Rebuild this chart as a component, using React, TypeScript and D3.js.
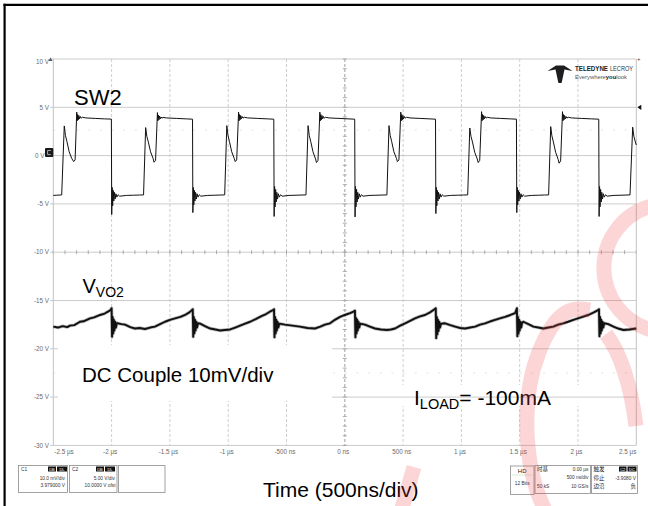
import React from 'react';
import * as d3 from 'd3';

// ---------- axis data ----------
const TIME_TICKS_NS = [-2500, -2000, -1500, -1000, -500, 0, 500, 1000, 1500, 2000, 2500];
const TIME_TICK_LABELS = ['-2.5 µs', '-2 µs', '-1.5 µs', '-1 µs', '-500 ns', '0 ns', '500 ns', '1 µs', '1.5 µs', '2 µs', '2.5 µs'];
const VOLT_TICKS = [10, 5, 0, -5, -10, -15, -20, -25, -30];
const VOLT_TICK_LABELS = ['10 V', '5 V', '0 V', '-5 V', '-10 V', '-15 V', '-20 V', '-25 V', '-30 V'];

// ---------- SW2 trace (time ns, volts) ----------
const SW2: [number, number][] = [
  [-2500, -4.12], [-2470, -4.1], [-2428, -4.07], [-2406, 3.07], [-2396, 2.1], [-2383, 1.45], [-2364, 0.4], [-2342, -0.3], [-2325, -0.62], [-2313, -0.45],
  [-2299, 4.5], [-2295, 3.6], [-2291, 4.25], [-2286, 3.7], [-2281, 4.15], [-2275, 3.8], [-2268, 4.05], [-2261, 3.88], [-2250, 3.97], [-2220, 3.9], [-2140, 3.85], [-2060, 3.8], [-2002, 3.78],
  [-1999, -6.1], [-1995, -3.3], [-1991, -5.2], [-1986, -3.6], [-1981, -4.7], [-1976, -3.8], [-1970, -4.5], [-1963, -3.95], [-1955, -4.3], [-1944, -4.05], [-1931, -4.2],
  [-1871, -4.12], [-1811, -4.1], [-1760, -4.08], [-1726, -4.07], [-1708, 2.9], [-1698, 2.0], [-1685, 1.4], [-1666, 0.4], [-1644, -0.3], [-1636, -0.69], [-1623, -0.5],
  [-1607, 4.45], [-1603, 3.6], [-1599, 4.2], [-1594, 3.7], [-1589, 4.1], [-1583, 3.8], [-1576, 4.0], [-1569, 3.88], [-1558, 3.95], [-1528, 3.9], [-1443, 3.85], [-1357, 3.8], [-1306, 3.77],
  [-1303, -5.9], [-1299, -3.3], [-1295, -5.1], [-1290, -3.6], [-1285, -4.7], [-1280, -3.8], [-1274, -4.5], [-1267, -3.95], [-1259, -4.3], [-1248, -4.05], [-1235, -4.2],
  [-1175, -4.12], [-1115, -4.1], [-1064, -4.08], [-1030, -4.07], [-1012, 3.1], [-1002, 2.1], [-989, 1.45], [-970, 0.4], [-948, -0.3], [-940, -0.62], [-927, -0.45],
  [-911, 4.5], [-907, 3.6], [-903, 4.25], [-898, 3.7], [-893, 4.15], [-887, 3.8], [-880, 4.05], [-873, 3.88], [-862, 3.97], [-832, 3.9], [-747, 3.85], [-661, 3.8], [-609, 3.77],
  [-606, -6.3], [-602, -3.2], [-598, -5.3], [-593, -3.5], [-588, -4.8], [-583, -3.8], [-577, -4.5], [-570, -3.95], [-562, -4.3], [-551, -4.05], [-538, -4.2],
  [-478, -4.12], [-418, -4.1], [-367, -4.08], [-333, -4.07], [-315, 3.1], [-305, 2.1], [-292, 1.45], [-273, 0.4], [-251, -0.35], [-243, -0.72], [-230, -0.5],
  [-214, 4.5], [-210, 3.6], [-206, 4.25], [-201, 3.7], [-196, 4.15], [-190, 3.8], [-183, 4.05], [-176, 3.88], [-165, 3.97], [-135, 3.9], [-50, 3.85], [36, 3.8], [85, 3.77],
  [88, -6.35], [92, -3.2], [96, -5.3], [101, -3.5], [106, -4.8], [111, -3.8], [117, -4.5], [124, -3.95], [132, -4.3], [143, -4.05], [156, -4.2],
  [216, -4.12], [276, -4.1], [327, -4.08], [361, -4.07], [379, 3.1], [389, 2.1], [402, 1.45], [421, 0.4], [443, -0.3], [451, -0.62], [464, -0.45],
  [480, 4.5], [484, 3.6], [488, 4.25], [493, 3.7], [498, 4.15], [504, 3.8], [511, 4.05], [518, 3.88], [529, 3.97], [559, 3.9], [644, 3.85], [730, 3.8], [778, 3.77],
  [781, -6.0], [785, -3.3], [789, -5.2], [794, -3.6], [799, -4.7], [804, -3.8], [810, -4.5], [817, -3.95], [825, -4.3], [836, -4.05], [849, -4.2],
  [909, -4.12], [969, -4.1], [1020, -4.08], [1054, -4.07], [1072, 2.85], [1082, 2.0], [1095, 1.4], [1114, 0.35], [1136, -0.35], [1144, -0.72], [1157, -0.5],
  [1173, 4.55], [1177, 3.6], [1181, 4.25], [1186, 3.7], [1191, 4.15], [1197, 3.8], [1204, 4.05], [1211, 3.88], [1222, 3.97], [1252, 3.9], [1337, 3.85], [1423, 3.8], [1472, 3.77],
  [1475, -5.9], [1479, -3.3], [1483, -5.1], [1488, -3.6], [1493, -4.7], [1498, -3.8], [1504, -4.5], [1511, -3.95], [1519, -4.3], [1530, -4.05], [1543, -4.2],
  [1603, -4.12], [1663, -4.1], [1714, -4.08], [1748, -4.07], [1766, 3.0], [1776, 2.05], [1789, 1.4], [1808, 0.35], [1830, -0.4], [1838, -0.79], [1851, -0.55],
  [1867, 4.55], [1871, 3.6], [1875, 4.25], [1880, 3.7], [1885, 4.15], [1891, 3.8], [1898, 4.05], [1905, 3.88], [1916, 3.97], [1946, 3.9], [2031, 3.85], [2117, 3.8], [2178, 3.77],
  [2181, -6.3], [2185, -3.2], [2189, -5.3], [2194, -3.5], [2199, -4.8], [2204, -3.8], [2210, -4.5], [2217, -3.95], [2225, -4.3], [2236, -4.05], [2249, -4.2],
  [2309, -4.12], [2369, -4.1], [2420, -4.08], [2446, -4.07], [2469, 2.94], [2479, 2.0], [2492, 1.4], [2500, 1.1],
];

// ---------- VO2 trace (time ns, volts on screen) ----------
const VO2: [number, number][] = [
  [-2500, -17.7], [-2460, -17.8], [-2420, -17.65], [-2380, -17.75], [-2357, -17.6], [-2320, -17.55], [-2271, -17.2], [-2240, -17.15], [-2185, -16.85], [-2150, -16.75], [-2099, -16.5], [-2060, -16.35], [-2031, -16.15], [-2010, -16.0],
  [-2000, -15.8], [-1996, -18.75], [-1991, -16.7], [-1986, -18.4], [-1981, -17.0], [-1976, -18.1], [-1970, -17.2], [-1963, -17.8], [-1955, -17.35],
  [-1945, -17.36], [-1915, -17.45], [-1885, -17.5], [-1840, -17.75], [-1799, -17.9], [-1760, -17.85], [-1714, -17.95], [-1670, -17.8], [-1628, -17.7], [-1585, -17.45], [-1542, -17.2], [-1500, -17.0], [-1456, -16.85], [-1410, -16.7], [-1370, -16.5], [-1330, -16.2], [-1312, -16.0],
  [-1304, -15.9], [-1300, -18.75], [-1295, -16.7], [-1290, -18.4], [-1285, -17.0], [-1280, -18.1], [-1274, -17.2], [-1267, -17.8], [-1259, -17.35],
  [-1240, -17.4], [-1200, -17.65], [-1154, -17.9], [-1110, -18.0], [-1070, -18.1], [-1030, -18.05], [-984, -18.0], [-940, -17.8], [-898, -17.6], [-855, -17.4], [-812, -17.2], [-760, -16.9], [-711, -16.6], [-675, -16.4], [-643, -16.16], [-615, -16.0],
  [-607, -15.9], [-603, -18.8], [-598, -16.7], [-593, -18.4], [-588, -17.0], [-583, -18.1], [-577, -17.2], [-570, -17.8], [-562, -17.4],
  [-513, -17.5], [-450, -17.6], [-385, -17.7], [-320, -17.85], [-256, -17.9], [-210, -17.7], [-170, -17.5], [-127, -17.36], [-85, -17.0], [-41, -16.7], [0, -16.5], [45, -16.3], [75, -16.15],
  [87, -16.05], [91, -18.8], [96, -16.8], [101, -18.4], [106, -17.0], [111, -18.1], [117, -17.2], [124, -17.8], [132, -17.4],
  [173, -17.5], [215, -17.7], [259, -17.9], [310, -18.0], [362, -18.05], [395, -18.0], [431, -17.9], [475, -17.6], [517, -17.36], [560, -17.1], [602, -16.85], [645, -16.65], [688, -16.5], [735, -16.2], [770, -15.9],
  [780, -15.8], [784, -18.9], [789, -16.7], [794, -18.5], [799, -17.0], [804, -18.15], [810, -17.2], [817, -17.8], [825, -17.4],
  [860, -17.36], [905, -17.55], [946, -17.7], [990, -17.85], [1032, -17.9], [1075, -17.8], [1118, -17.7], [1160, -17.5], [1203, -17.36], [1250, -17.15], [1289, -17.0], [1330, -16.85], [1375, -16.7], [1420, -16.5], [1461, -16.3],
  [1476, -15.8], [1480, -18.7], [1485, -16.7], [1490, -18.4], [1495, -17.0], [1500, -18.1], [1506, -17.2], [1513, -17.8], [1521, -17.3],
  [1531, -17.2], [1575, -17.45], [1617, -17.7], [1660, -17.8], [1703, -17.9], [1745, -17.8], [1788, -17.7], [1830, -17.5], [1874, -17.36], [1915, -17.2], [1960, -17.0], [2025, -16.75], [2089, -16.5], [2140, -16.2], [2172, -16.0],
  [2180, -15.9], [2184, -18.7], [2189, -16.7], [2194, -18.4], [2199, -17.0], [2204, -18.1], [2210, -17.2], [2217, -17.8], [2225, -17.35],
  [2260, -17.45], [2304, -17.7], [2345, -17.9], [2390, -18.05], [2440, -18.0], [2470, -17.95], [2500, -17.9],
];

const FONT = "Arial, 'Liberation Sans', Helvetica, sans-serif";
const CJK = "'Noto Sans CJK SC', sans-serif";

export default function App() {
  const W = 648, H = 506;
  const L = 53.3, R = 636.3, T = 59, B = 445.4;
  const x = d3.scaleLinear().domain([-2500, 2500]).range([L, R]);
  const y = d3.scaleLinear().domain([-30, 10]).range([B, T]);
  const line = d3.line<[number, number]>().x(d => x(d[0])).y(d => y(d[1]));

  const minorT = d3.range(-2500, 2501, 100);
  const minorV = d3.range(-30, 10.001, 1);
  const x0 = x(0), yAxis = y(-10);

  const small = { fontFamily: FONT, fontSize: 6.3, fill: '#6a6a6a' } as const;
  const tiny = { fontFamily: FONT, fontSize: 4.8, fill: '#333' } as const;

  return (
    <svg width={W} height={H} style={{ position: 'absolute', left: 0, top: 0 }} xmlns="http://www.w3.org/2000/svg">
      <rect x={0} y={0} width={W} height={H} fill="#fff" />
      {/* outer black frame */}
      <line x1={3.5} y1={4.8} x2={W} y2={4.8} stroke="#000" strokeWidth={2.2} />
      <line x1={4.6} y1={3.7} x2={4.6} y2={H} stroke="#000" strokeWidth={2.2} />

      {/* vertical dashed grid */}
      {TIME_TICKS_NS.slice(1, -1).map(t => (
        <line key={'v' + t} x1={x(t)} x2={x(t)} y1={T} y2={B} stroke="#c8c8c8" strokeWidth={0.9} strokeDasharray="3 2" />
      ))}
      {/* background behind I_LOAD */}
      <rect x={348} y={385} width={287} height={21} fill="#fff" />
      {/* horizontal grid */}
      {VOLT_TICKS.map(v => (
        <line key={'h' + v} x1={50} x2={R} y1={y(v)} y2={y(v)} stroke="#cbcbcb" strokeWidth={1} />
      ))}
      {/* faint dotted rows */}
      {[2.65, -22.5].map(v => (
        <line key={'d' + v} x1={L} x2={R} y1={y(v)} y2={y(v)} stroke="#e2e2e2" strokeWidth={1} strokeDasharray="2 9.66" />
      ))}
      {/* centre axes with minor ticks */}
      {minorV.map(v => (
        <line key={'mv' + v} x1={x0 - 2} x2={x0 + 2} y1={y(v)} y2={y(v)} stroke="#9a9a9a" strokeWidth={0.8} />
      ))}
      {minorT.map(t => (
        <line key={'mt' + t} x1={x(t)} x2={x(t)} y1={yAxis - 2} y2={yAxis + 2} stroke="#9a9a9a" strokeWidth={0.8} />
      ))}
      <line x1={x0} x2={x0} y1={T} y2={B} stroke="#b0b0b0" strokeWidth={0.9} strokeDasharray="3 2" />
      {/* plot frame sides */}
      <line x1={L} x2={L} y1={T} y2={B} stroke="#c4c4c4" strokeWidth={1} />
      <line x1={R} x2={R} y1={T} y2={B} stroke="#c4c4c4" strokeWidth={1} />

      {/* white box behind DC text */}
      <rect x={58} y={345} width={274} height={56} fill="#fff" />

      {/* traces */}
      <path d={line(SW2) || ''} fill="none" stroke="#111" strokeWidth={1} strokeLinejoin="round" />
      <path d={line(VO2) || ''} fill="none" stroke="#777" strokeWidth={3.4} strokeLinejoin="round" opacity={0.5} />
      <path d={line(VO2) || ''} fill="none" stroke="#111" strokeWidth={1.9} strokeLinejoin="round" />

      {/* y labels */}
      {VOLT_TICKS.map((v, i) => (
        <text key={'yl' + v} x={v === 0 ? 44.5 : 49} y={i === 0 ? y(v) + 4.5 : y(v) + 2.2} textAnchor="end" {...small}>{VOLT_TICK_LABELS[i]}</text>
      ))}
      {/* x labels */}
      {TIME_TICKS_NS.map((t, i) => (
        <text key={'xl' + t} x={i === 0 ? L + 1 : i === TIME_TICKS_NS.length - 1 ? R : x(t) - 1.5} y={454}
          textAnchor={i === 0 ? 'start' : i === TIME_TICKS_NS.length - 1 ? 'end' : 'middle'} {...small}>{TIME_TICK_LABELS[i]}</text>
      ))}

      {/* channel markers */}
      <rect x={45} y={148} width={8.3} height={9} rx={1} fill="#1a1a1a" />
      <path d="M50.8,150.5 L47.6,150.5 L47.6,154.6 L50.8,154.6" fill="none" stroke="#bbb" strokeWidth={0.9} />
      <path d="M48.5,61 L50.5,57.5 L52.5,61 Z" fill="#555" />
      <path d={`M${R + 1},${y(5)} l4,-2.6 l0,5.2 Z`} fill="#111" />
      <text x={R + 2.5} y={T + 1.5} textAnchor="middle" fontFamily={FONT} fontSize={6} fill="#444">+</text>

      {/* logo */}
      <path d="M547.5,71 L556,65.5 L564,65.5 L572.5,71 L564.5,69.5 L561.6,83 L558.4,83 L555.5,69.5 Z" fill="#1e1e1e" />
      <text x={575} y={70.5} fontFamily={FONT} fontSize={6.6} fontWeight="bold" fill="#222" textLength={33} lengthAdjust="spacingAndGlyphs">TELEDYNE</text>
      <text x={610} y={70.5} fontFamily={FONT} fontSize={6.6} fill="#333" textLength={23} lengthAdjust="spacingAndGlyphs">LECROY</text>
      <text x={575} y={78.6} fontFamily={FONT} fontSize={5} fill="#555" textLength={52} lengthAdjust="spacingAndGlyphs">
        Everywhere<tspan fontWeight="bold" fill="#222">you</tspan>look
      </text>

      {/* annotations */}
      <text x={74} y={105} fontFamily={FONT} fontSize={22} fill="#000">SW2</text>
      <text x={82.5} y={293} fontFamily={FONT} fontSize={20} fill="#000">V<tspan fontSize={14} dy={3.5}>VO2</tspan></text>
      <text x={82} y={382} fontFamily={FONT} fontSize={20.5} fill="#000">DC Couple 10mV/div</text>
      <text x={414} y={405} fontFamily={FONT} fontSize={21} fill="#000">I<tspan fontSize={14.5} dy={4}>LOAD</tspan><tspan dy={-4}>= -100mA</tspan></text>
      <text x={263} y={497} fontFamily={FONT} fontSize={21} fill="#000">Time (500ns/div)</text>

      {/* channel descriptor boxes */}
      <g>
        <rect x={18.5} y={465.5} width={49} height={27} fill="#fff" stroke="#8a8a8a" strokeWidth={0.8} />
        <text x={21} y={471} {...tiny}>C1</text>
        <rect x={48} y={466.5} width={8} height={5} fill="#111" />
        <rect x={57} y={466.5} width={10} height={5} fill="#111" />
        <text x={52} y={470.6} textAnchor="middle" fontFamily={FONT} fontSize={4} fill="#fff">DB</text>
        <text x={62} y={470.6} textAnchor="middle" fontFamily={FONT} fontSize={4} fill="#fff">DL</text>
        <text x={65} y={479.5} textAnchor="end" {...tiny}>10.0 mV/div</text>
        <text x={65} y={487} textAnchor="end" {...tiny}>3.979000 V</text>

        <rect x={69.5} y={465.5} width={47.5} height={27} fill="#fff" stroke="#8a8a8a" strokeWidth={0.8} />
        <text x={72} y={471} {...tiny}>C2</text>
        <rect x={96} y={466.5} width={8} height={5} fill="#111" />
        <rect x={105} y={466.5} width={10} height={5} fill="#111" />
        <text x={100} y={470.6} textAnchor="middle" fontFamily={FONT} fontSize={4} fill="#fff">DB</text>
        <text x={110} y={470.6} textAnchor="middle" fontFamily={FONT} fontSize={4} fill="#fff">DL</text>
        <text x={115} y={479.5} textAnchor="end" {...tiny}>5.00 V/div</text>
        <text x={115.5} y={487} textAnchor="end" {...tiny}>10.0000 V ofst</text>

        <rect x={118.5} y={465.5} width={46.5} height={27} fill="#fff" stroke="#8a8a8a" strokeWidth={0.8} />

        <rect x={510.5} y={466} width={23.5} height={28.5} fill="#fff" stroke="#8a8a8a" strokeWidth={0.8} />
        <text x={522.2} y={472.5} textAnchor="middle" fontFamily={FONT} fontSize={6} fill="#222">HD</text>
        <line x1={512} x2={532.5} y1={475} y2={475} stroke="#cfe8cf" strokeWidth={0.8} />
        <text x={522.2} y={485} textAnchor="middle" {...tiny}>12 Bits</text>

        <rect x={535} y={465.5} width={55.5} height={28} fill="#fff" stroke="#8a8a8a" strokeWidth={0.8} />
        <text x={537} y={471} fontFamily={CJK} fontSize={5.5} fill="#222">时基</text>
        <text x={588.5} y={471} textAnchor="end" {...tiny}>0.00 µs</text>
        <text x={588.5} y={479} textAnchor="end" {...tiny}>500 ns/div</text>
        <text x={537} y={487.5} {...tiny}>50 kS</text>
        <text x={588.5} y={487.5} textAnchor="end" {...tiny}>10 GS/s</text>

        <rect x={591.5} y={465.5} width={46} height={28} fill="#fff" stroke="#8a8a8a" strokeWidth={0.8} />
        <text x={593.5} y={471} fontFamily={CJK} fontSize={5.5} fill="#222">触发</text>
        <rect x={619} y={466.5} width={7.5} height={5} fill="#111" />
        <rect x={627.5} y={466.5} width={9} height={5} fill="#111" />
        <text x={622.7} y={470.6} textAnchor="middle" fontFamily={FONT} fontSize={4} fill="#fff">C2</text>
        <text x={632} y={470.6} textAnchor="middle" fontFamily={FONT} fontSize={4} fill="#fff">DC</text>
        <text x={593.5} y={479.5} fontFamily={CJK} fontSize={5.5} fill="#222">停止</text>
        <text x={636} y={479.5} textAnchor="end" {...tiny}>-3.9080 V</text>
        <text x={593.5} y={488} fontFamily={CJK} fontSize={5.5} fill="#222">边沿</text>
        <text x={636} y={488} textAnchor="end" fontFamily={CJK} fontSize={5.5} fill="#222">负</text>
      </g>

      {/* pink watermark */}
      <g fill="none" stroke="rgb(240,70,70)" strokeOpacity={0.22} strokeWidth={15} strokeLinecap="butt">
        <path d="M652,206 A64,64 0 0 0 652,330" />
        <path d="M546,512 C524,470 520,400 539,352 S576,308 590,310" />
        <path d="M606,334 C620,352 631,385 636,426" />
        <path d="M414,467 L401,512" />
      </g>
    </svg>
  );
}
